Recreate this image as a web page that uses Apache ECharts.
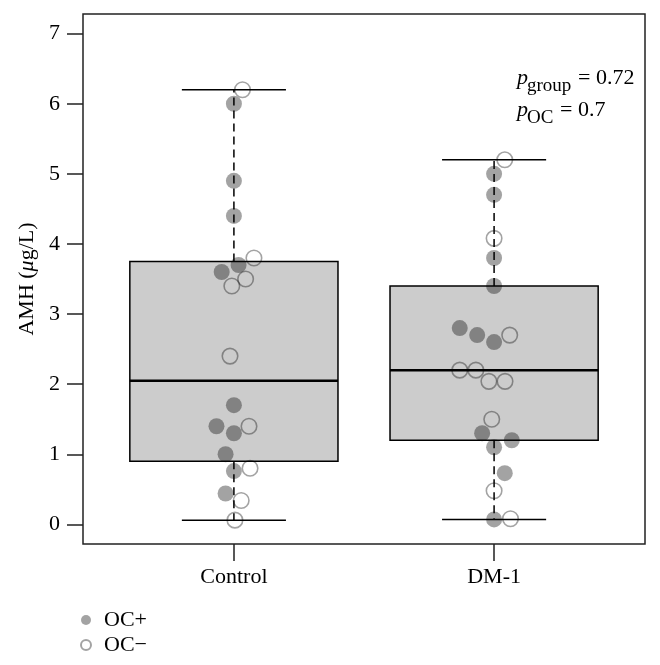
<!DOCTYPE html>
<html><head><meta charset="utf-8">
<script src="https://cdn.jsdelivr.net/npm/echarts@6/dist/echarts.min.js"></script>
<style>html,body{margin:0;padding:0;background:#fff}#c{width:660px;height:665px}</style>
</head><body><div id="c"></div>
<script>
const categories = ['Control', 'DM-1'];
const yTicks = [0, 1, 2, 3, 4, 5, 6, 7];
const seriesNames = ['OC+', 'OC\u2212'];
// Control group values (AMH, µg/L)
const controlOCpos = [6.0, 4.9, 4.4, 3.7, 3.6, 1.7, 1.4, 1.3, 1.0, 0.76, 0.44];
const controlOCposJitter = [0, 0, 0, 0.018, -0.047, 0, -0.067, 0, -0.032, 0, -0.032];
const controlOCneg = [6.2, 3.8, 3.5, 3.4, 2.4, 1.4, 0.8, 0.34, 0.06];
const controlOCnegJitter = [0.033, 0.077, 0.045, -0.008, -0.015, 0.058, 0.062, 0.028, 0.004];
// DM-1 group values
const dmOCpos = [5.0, 4.7, 3.8, 3.4, 2.8, 2.7, 2.6, 1.3, 1.2, 1.1, 0.73, 0.07];
const dmOCposJitter = [0, 0, 0, 0, -0.132, -0.065, 0, -0.046, 0.068, 0, 0.041, 0];
const dmOCneg = [5.2, 4.08, 2.7, 2.2, 2.2, 2.04, 2.04, 1.5, 0.48, 0.08];
const dmOCnegJitter = [0.041, 0, 0.06, -0.132, -0.07, -0.02, 0.042, -0.009, 0, 0.063];

function fivenum(arr) {
  const x = arr.slice().sort((a, b) => a - b);
  const n = x.length;
  const n4 = Math.floor((n + 3) / 2) / 2;
  const d = [1, n4, (n + 1) / 2, n + 1 - n4, n];
  return d.map(v => 0.5 * (x[Math.floor(v) - 1] + x[Math.ceil(v) - 1]));
}
const groups = [controlOCpos.concat(controlOCneg), dmOCpos.concat(dmOCneg)];
const boxData = groups.map((g, i) => [i + 1].concat(fivenum(g)));

const pts = (vals, jit, pos) => vals.map((v, i) => [pos + jit[i], v]);
const posData = pts(controlOCpos, controlOCposJitter, 1).concat(pts(dmOCpos, dmOCposJitter, 2));
const negData = pts(controlOCneg, controlOCnegJitter, 1).concat(pts(dmOCneg, dmOCnegJitter, 2));

const FONT = 'Liberation Serif';

function renderBox(params, api) {
  const x = api.value(0), lo = api.value(1), q1 = api.value(2), med = api.value(3), q3 = api.value(4), hi = api.value(5);
  const hw = 0.4, cw = 0.2;
  const c = (a, b) => api.coord([a, b]);
  const line = (a, b, style) => ({ type: 'line', shape: { x1: a[0], y1: a[1], x2: b[0], y2: b[1] }, style: style });
  const solid = { stroke: '#000', lineWidth: 1.5 };
  const dashed = { stroke: '#000', lineWidth: 1.5, lineDash: [8, 5] };
  const tl = c(x - hw, q3), br = c(x + hw, q1);
  return {
    type: 'group', children: [
      line(c(x, q3), c(x, hi), dashed),
      line(c(x, q1), c(x, lo), dashed),
      line(c(x - cw, hi), c(x + cw, hi), solid),
      line(c(x - cw, lo), c(x + cw, lo), solid),
      { type: 'rect', shape: { x: tl[0], y: tl[1], width: br[0] - tl[0], height: br[1] - tl[1] }, style: { fill: '#cccccc', stroke: '#000', lineWidth: 1.5 } },
      line(c(x - hw, med), c(x + hw, med), { stroke: '#000', lineWidth: 2.5 })
    ]
  };
}

const chart = echarts.init(document.getElementById('c'), null, { renderer: 'canvas' });
chart.setOption({
  animation: false,
  backgroundColor: '#fff',
  grid: { left: 83, right: 15, top: 14, bottom: 121, show: true, borderColor: '#222', borderWidth: 1.5, backgroundColor: 'transparent' },
  xAxis: {
    type: 'value', min: 0.42, max: 2.58,
    splitLine: { show: false },
    axisLine: { show: false, onZero: false },
    axisTick: { show: true, length: 17, inside: false, customValues: [1, 2], lineStyle: { color: '#222', width: 1.5 } },
    axisLabel: { customValues: [1, 2], formatter: v => categories[Math.round(v) - 1], margin: 22, fontFamily: FONT, fontSize: 22, color: '#000' }
  },
  yAxis: {
    type: 'value', min: -0.28, max: 7.28,
    splitLine: { show: false },
    axisLine: { show: false, onZero: false },
    axisTick: { show: true, length: 16, inside: false, customValues: yTicks, lineStyle: { color: '#222', width: 1.5 } },
    axisLabel: { customValues: yTicks, margin: 23, fontFamily: FONT, fontSize: 22, color: '#000' },
    name: '{n|AMH (}{i|\u03bc}{n|g/L)}',
    nameLocation: 'middle', nameGap: 44, nameRotate: 90,
    nameTextStyle: { rich: { n: { fontFamily: FONT, fontSize: 22, color: '#000' }, i: { fontFamily: FONT, fontSize: 22, fontStyle: 'italic', color: '#000' } } }
  },
  legend: {
    orient: 'vertical', left: 75, top: 604, itemWidth: 10, itemHeight: 10, itemGap: 3,
    textStyle: { fontFamily: FONT, fontSize: 22, color: '#000', padding: [0, 0, 0, 8] },
    data: [{ name: seriesNames[0], icon: 'circle' }, { name: seriesNames[1], icon: 'circle' }]
  },
  series: [
    { type: 'custom', name: 'box', renderItem: renderBox, data: boxData, encode: { x: 0, y: [1, 2, 3, 4, 5] }, z: 1, silent: true },
    { type: 'scatter', name: seriesNames[0], data: posData, symbol: 'circle', symbolSize: 16, z: 3,
      itemStyle: { color: 'rgba(0,0,0,0.45)', borderWidth: 0 } },
    { type: 'scatter', name: seriesNames[1], data: negData, symbol: 'circle', symbolSize: 15.5, z: 3,
      itemStyle: { color: 'rgba(255,255,255,0)', borderColor: 'rgba(0,0,0,0.45)', borderWidth: 1.6 } }
  ],
  graphic: [
    { type: 'text', x: 517, y: 78, style: { text: 'p', font: 'italic 22px "Liberation Serif"', fill: '#000', verticalAlign: 'middle' } },
    { type: 'text', x: 527, y: 86, style: { text: 'group', font: '19px "Liberation Serif"', fill: '#000', verticalAlign: 'middle' } },
    { type: 'text', x: 578, y: 78, style: { text: '= 0.72', font: '22px "Liberation Serif"', fill: '#000', verticalAlign: 'middle' } },
    { type: 'text', x: 517, y: 110, style: { text: 'p', font: 'italic 22px "Liberation Serif"', fill: '#000', verticalAlign: 'middle' } },
    { type: 'text', x: 527, y: 118, style: { text: 'OC', font: '19px "Liberation Serif"', fill: '#000', verticalAlign: 'middle' } },
    { type: 'text', x: 560, y: 110, style: { text: '= 0.7', font: '22px "Liberation Serif"', fill: '#000', verticalAlign: 'middle' } }
  ]
});
</script></body></html>
